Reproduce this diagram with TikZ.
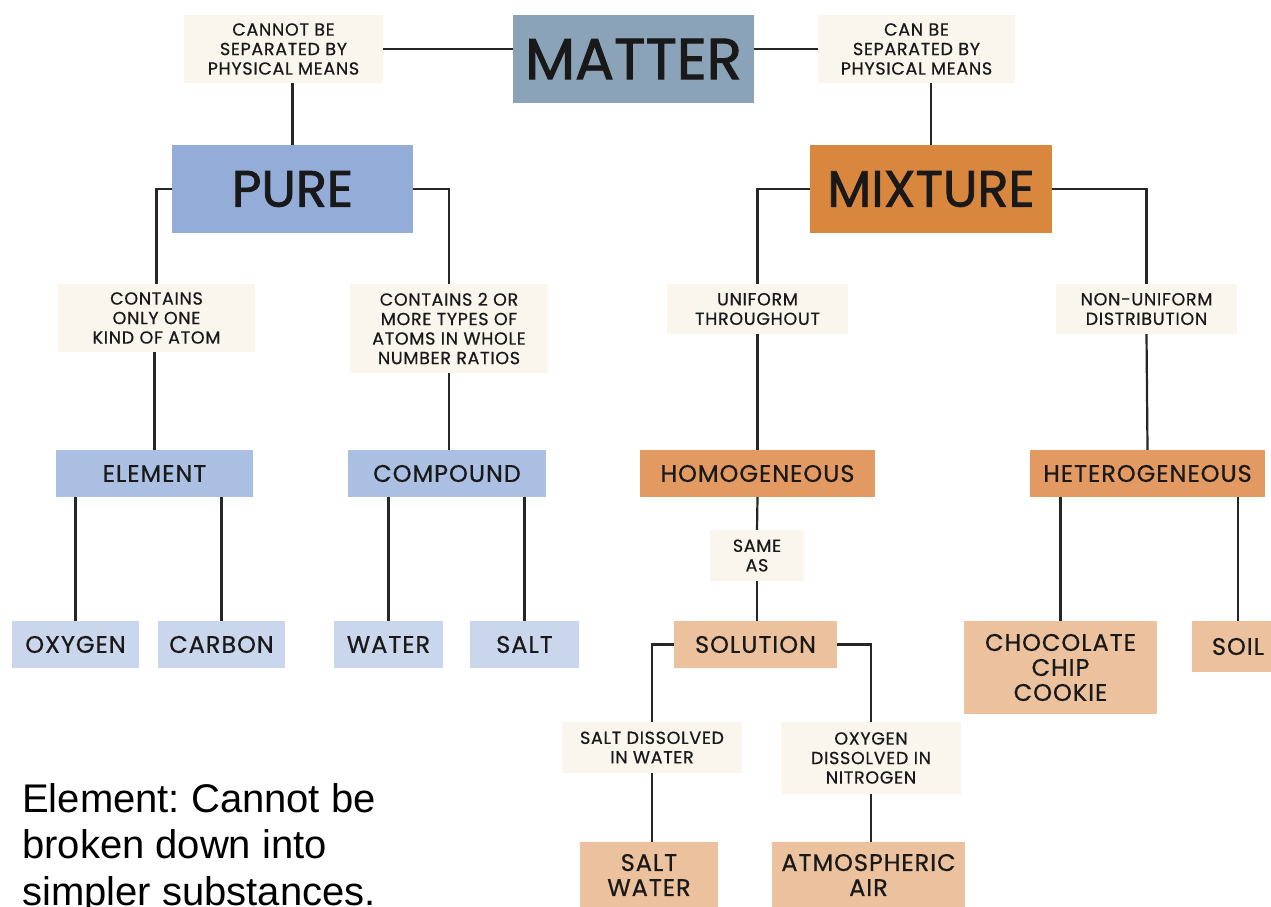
\documentclass[tikz,border=0pt]{standalone}
\usepackage{fontspec}
\usepackage{xcolor}
\usepackage{tikz}
\usetikzlibrary{positioning}
\newfontfamily\geo[FakeBold=0.6, LetterSpace=4]{Poppins}
\newfontfamily\geoheavy[FakeBold=1.6]{Poppins}
\newfontfamily\plain{Liberation Sans}
\definecolor{matterblue}{HTML}{8AA3B9}
\definecolor{notecream}{HTML}{FAF6EE}
\definecolor{pureblue}{HTML}{94ADD8}
\definecolor{kindblue}{HTML}{AABFE2}
\definecolor{leafblue}{HTML}{C9D6EC}
\definecolor{mixorange}{HTML}{D9873F}
\definecolor{kindorange}{HTML}{E39A62}
\definecolor{leafpeach}{HTML}{EBC29D}
\begin{document}
\frenchspacing
\begin{tikzpicture}[x=1pt, y=-1pt,
  box/.style={rectangle, inner sep=0pt, align=center, text=black!90},
  notebox/.style={box, fill=notecream, font=\geo\fontsize{17.5}{19.5}\selectfont},
  topbox/.style={box, fill=matterblue, font=\geoheavy\fontsize{58}{60}\selectfont},
  purebox/.style={box, fill=pureblue, font=\geoheavy\fontsize{51}{54}\selectfont},
  mixbox/.style={box, fill=mixorange, font=\geoheavy\fontsize{51}{54}\selectfont},
  kindblue/.style={box, fill=kindblue, font=\geo\fontsize{24}{26}\selectfont},
  kindorange/.style={box, fill=kindorange, font=\geo\fontsize{24}{26}\selectfont},
  leafblue/.style={box, fill=leafblue, font=\geo\fontsize{24}{26}\selectfont},
  leafpeach/.style={box, fill=leafpeach, font=\geo\fontsize{24}{25}\selectfont},
  link/.style={line width=2.2pt, black!85}
]
\useasboundingbox (0,0) rectangle (1271,907);
\clip (0,0) rectangle (1271,907);
\fill[white] (0,0) rectangle (1271,907);

% top row
\node[topbox, minimum width=241pt, minimum height=88pt] (matter) at (633.5,59) {MATTER};
\node[notebox, minimum width=199pt, minimum height=68pt] (cannot) at (283.5,49) {CANNOT BE\\SEPARATED BY\\PHYSICAL MEANS};
\node[notebox, minimum width=197pt, minimum height=68pt] (canbe) at (916.5,49) {CAN BE\\SEPARATED BY\\PHYSICAL MEANS};

% pure / mixture
\node[purebox, minimum width=241pt, minimum height=88pt] (pure) at (292.5,189) {PURE};
\node[mixbox, minimum width=242pt, minimum height=88pt] (mixture) at (931,189) {MIXTURE};

% descriptions
\node[notebox, minimum width=197pt, minimum height=68pt] (onekind) at (156.5,318) {CONTAINS\\ONLY ONE\\KIND OF ATOM};
\node[notebox, minimum width=198pt, minimum height=89pt] (twokind) at (449,328.5) {CONTAINS 2 OR\\MORE TYPES OF\\ATOMS IN WHOLE\\NUMBER RATIOS};
\node[notebox, minimum width=181pt, minimum height=50pt] (uniform) at (757.5,309) {UNIFORM\\THROUGHOUT};
\node[notebox, minimum width=181pt, minimum height=50pt] (nonuni) at (1146.5,309) {NON-UNIFORM\\DISTRIBUTION};

% kinds
\node[kindblue, minimum width=197pt, minimum height=47pt] (element) at (154.5,473.5) {ELEMENT};
\node[kindblue, minimum width=198pt, minimum height=47pt] (compound) at (447,473.5) {COMPOUND};
\node[kindorange, minimum width=235pt, minimum height=47pt] (homog) at (757.5,473.5) {HOMOGENEOUS};
\node[kindorange, minimum width=235pt, minimum height=47pt] (heterog) at (1147.5,473.5) {HETEROGENEOUS};
\node[notebox, minimum width=94pt, minimum height=51pt] (sameas) at (757,555.5) {SAME\\AS};

% examples
\node[leafblue, minimum width=127pt, minimum height=47pt] (oxygen) at (75.5,644.5) {OXYGEN};
\node[leafblue, minimum width=127pt, minimum height=47pt] (carbon) at (221.5,644.5) {CARBON};
\node[leafblue, minimum width=109pt, minimum height=47pt] (water) at (388.5,644.5) {WATER};
\node[leafblue, minimum width=109pt, minimum height=47pt] (salt) at (524.5,644.5) {SALT};
\node[leafpeach, minimum width=163pt, minimum height=47pt] (solution) at (755.5,644.5) {SOLUTION};
\node[leafpeach, minimum width=193pt, minimum height=93pt] (cookie) at (1060.5,667.5) {CHOCOLATE\\CHIP\\COOKIE};
\node[leafpeach, minimum width=92pt, minimum height=51pt] (soil) at (1238,646.5) {SOIL};
\node[notebox, minimum width=180pt, minimum height=51pt] (saltdis) at (652,747.5) {SALT DISSOLVED\\IN WATER};
\node[notebox, minimum width=180pt, minimum height=72pt] (oxydis) at (871,758) {OXYGEN\\DISSOLVED IN\\NITROGEN};
\node[leafpeach, minimum width=138pt, minimum height=66pt] (saltwater) at (649,875) {SALT\\WATER};
\node[leafpeach, minimum width=193pt, minimum height=66pt] (atmos) at (868.5,875) {ATMOSPHERIC\\AIR};

% note
\node[anchor=north west, inner sep=0pt, align=left, font=\plain\fontsize{40}{46.5}\selectfont] (note) at (22,783) {Element: Cannot be\\broken down into\\simpler substances.};

% connectors
\draw[link] (cannot.east) -- (cannot.east -| matter.west);
\draw[link] (matter.east |- canbe.west) -- (canbe.west);
\draw[link] (pure.north) -- (pure.north |- cannot.south);
\draw[link] (mixture.north) -- (mixture.north |- canbe.south);
\draw[link] (pure.west) -| (onekind.north);
\draw[link] (pure.east) -| (twokind.north);
\draw[link] (mixture.west) -| (uniform.north);
\draw[link] (mixture.east) -| (nonuni.north);
\draw[link] (element.north) -- (element.north |- onekind.south);
\draw[link] (twokind.south) -- (twokind.south |- compound.north);
\draw[link] (uniform.south) -- (homog.north);
\draw[link] (nonuni.south) -- (heterog.north);
\draw[link] (homog.south) -- (sameas.north);
\draw[link] (sameas.south) -- (sameas.south |- solution.north);
\draw[link] (oxygen.north) -- (oxygen.north |- element.south);
\draw[link] (carbon.north) -- (carbon.north |- element.south);
\draw[link] (water.north) -- (water.north |- compound.south);
\draw[link] (salt.north) -- (salt.north |- compound.south);
\draw[link] (cookie.north) -- (cookie.north |- heterog.south);
\draw[link] (soil.north) -- (soil.north |- heterog.south);
\draw[link] (solution.west) -| (saltdis.north);
\draw[link] (solution.east) -| (oxydis.north);
\draw[link] (saltdis.south) -- (saltdis.south |- saltwater.north);
\draw[link] (oxydis.south) -- (oxydis.south |- atmos.north);
\end{tikzpicture}
\end{document}
